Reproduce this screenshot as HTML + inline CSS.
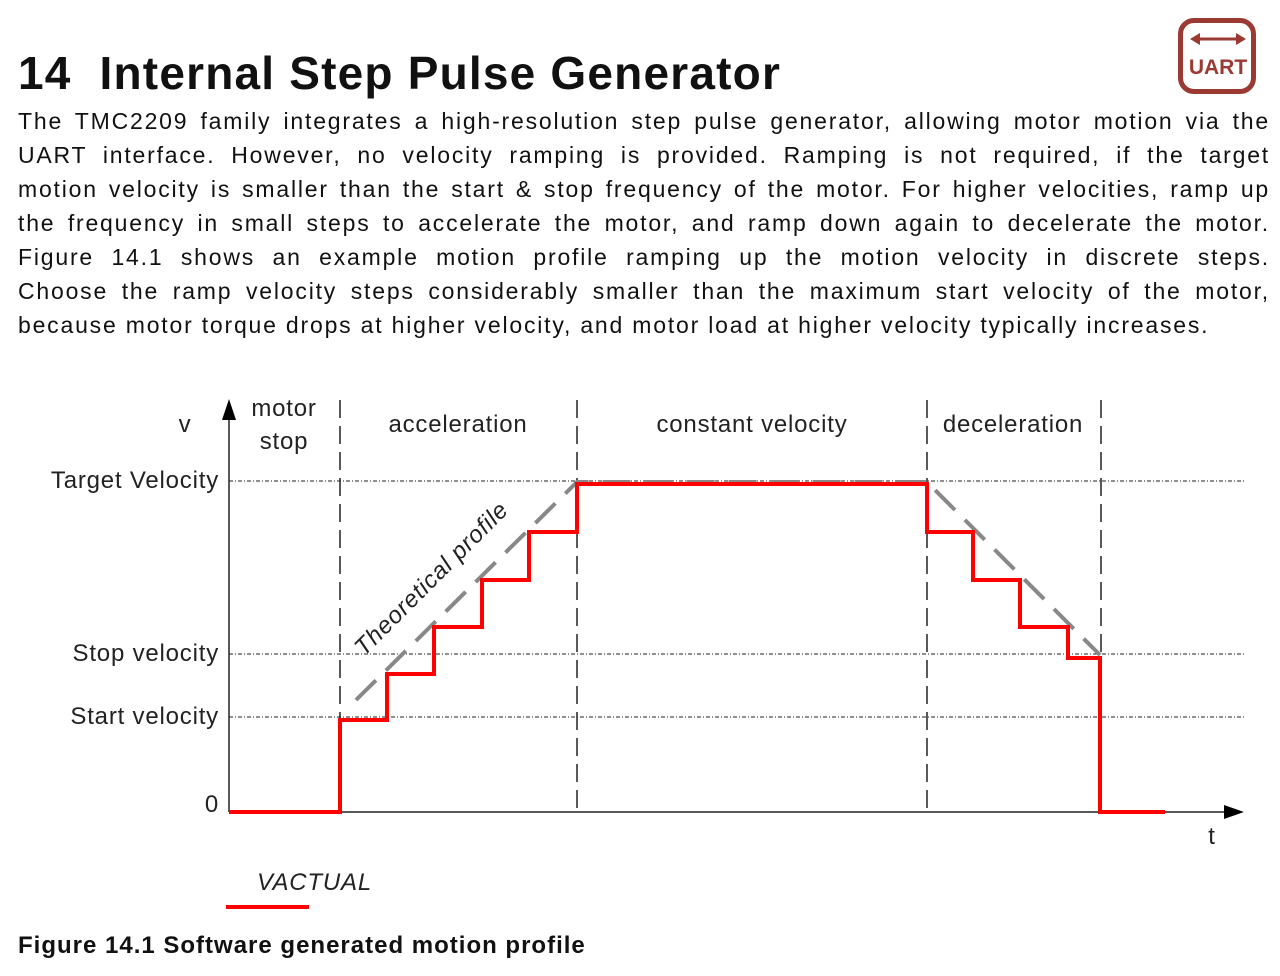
<!DOCTYPE html>
<html><head><meta charset="utf-8"><style>
html,body{margin:0;padding:0;background:#fff;width:1280px;height:976px;overflow:hidden}
body{font-family:"Liberation Sans","DejaVu Sans",sans-serif;color:#111;position:relative}
h1{position:absolute;left:18px;top:46px;margin:0;font-size:46px;font-weight:bold;letter-spacing:1.2px}
.p{position:absolute;left:18px;top:104px;width:1252px;font-size:23px;line-height:34px;letter-spacing:1.8px}
.p div{text-align:justify;text-align-last:justify;white-space:nowrap}
.p div.l{text-align-last:left}
.cap{position:absolute;left:18px;top:932px;font-size:24px;font-weight:bold;letter-spacing:1px}
</style></head><body>
<h1>14&nbsp; Internal Step Pulse Generator</h1>
<div style="position:absolute;left:1178px;top:18px;width:78px;height:76px;border:5px solid #9b3a32;border-radius:16px;box-sizing:border-box;background:#fff"></div>
<svg style="position:absolute;left:1178px;top:18px" width="80" height="80">
<line x1="16" y1="21" x2="64" y2="21" stroke="#9b3a32" stroke-width="3"/>
<polygon points="12,21 22,15 22,27" fill="#9b3a32"/><polygon points="68,21 58,15 58,27" fill="#9b3a32"/>
<text x="40" y="56" text-anchor="middle" font-family="Liberation Sans" font-weight="bold" font-size="21" fill="#9b3a32">UART</text></svg>
<div class="p">
<div>The TMC2209 family integrates a high-resolution step pulse generator, allowing motor motion via the</div>
<div>UART interface. However, no velocity ramping is provided. Ramping is not required, if the target</div>
<div>motion velocity is smaller than the start &amp; stop frequency of the motor. For higher velocities, ramp up</div>
<div>the frequency in small steps to accelerate the motor, and ramp down again to decelerate the motor.</div>
<div>Figure 14.1 shows an example motion profile ramping up the motion velocity in discrete steps.</div>
<div>Choose the ramp velocity steps considerably smaller than the maximum start velocity of the motor,</div>
<div class="l">because motor torque drops at higher velocity, and motor load at higher velocity typically increases.</div>
</div>
<svg style="position:absolute;left:0;top:0" width="1280" height="976" font-family="Liberation Sans, DejaVu Sans, sans-serif">
<g stroke="#222" stroke-width="1" stroke-dasharray="4,2,1,2">
<line x1="229" y1="481" x2="1245" y2="481"/><line x1="229" y1="654" x2="1245" y2="654"/><line x1="229" y1="717" x2="1245" y2="717"/></g>
<g stroke="#222" stroke-width="1.5" stroke-dasharray="18,8">
<line x1="340" y1="400" x2="340" y2="812"/><line x1="577" y1="400" x2="577" y2="812"/><line x1="927" y1="400" x2="927" y2="812"/><line x1="1101" y1="400" x2="1101" y2="812"/></g>
<line x1="229" y1="812" x2="1230" y2="812" stroke="#222" stroke-width="1.5"/>
<polygon points="1244,812 1224,805 1224,819" fill="#000"/>
<line x1="229" y1="812" x2="229" y2="415" stroke="#222" stroke-width="1.5"/>
<polygon points="229,399 222,420 236,420" fill="#000"/>
<g stroke="#888" stroke-width="4" stroke-dasharray="28,14" fill="none">
<polyline points="356,700 577,482 927,482 1100,655"/></g>
<polyline fill="none" stroke="#f00" stroke-width="4" points="229,812 340,812 340,720 387,720 387,674 434,674 434,627 482,627 482,580 529,580 529,532 577,532 577,484 927,484 927,532 973,532 973,580 1020,580 1020,627 1068,627 1068,658 1100,658 1100,812 1165,812"/>
<g font-size="24" fill="#222" letter-spacing="0.8">
<text x="185" y="432" text-anchor="middle">v</text>
<text x="284" y="416" text-anchor="middle">motor</text><text x="284" y="449" text-anchor="middle">stop</text>
<text x="458" y="432" text-anchor="middle">acceleration</text>
<text x="752" y="432" text-anchor="middle">constant velocity</text>
<text x="1013" y="432" text-anchor="middle">deceleration</text>
<text x="219" y="488" text-anchor="end">Target Velocity</text>
<text x="219" y="661" text-anchor="end">Stop velocity</text>
<text x="219" y="724" text-anchor="end">Start velocity</text>
<text x="219" y="812" text-anchor="end">0</text>
<text x="1212" y="844" text-anchor="middle">t</text>
<text x="437" y="584" text-anchor="middle" transform="rotate(-45 437 584)" font-style="italic">Theoretical profile</text>
<text x="257" y="890" font-style="italic">VACTUAL</text>
</g>
<line x1="226" y1="907" x2="309" y2="907" stroke="#f00" stroke-width="4"/>
</svg>
<div class="cap">Figure 14.1 Software generated motion profile</div>
</body></html>
